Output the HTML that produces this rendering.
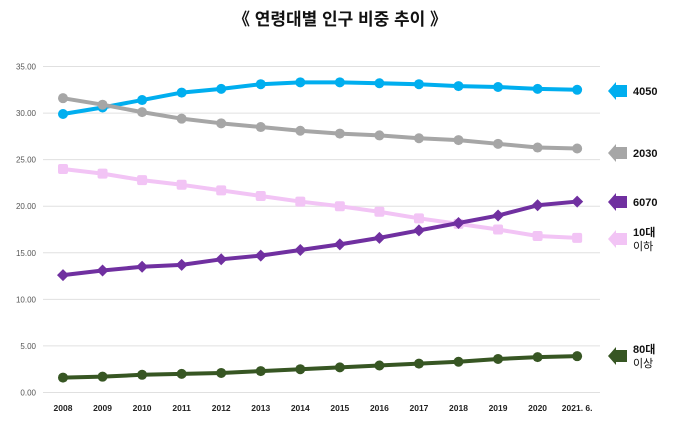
<!DOCTYPE html>
<html><head><meta charset="utf-8"><style>
body{margin:0;background:#fff;width:680px;height:425px;overflow:hidden}
svg{display:block;font-family:"Liberation Sans","Noto Sans CJK KR",sans-serif}
</style></head><body>
<svg id="s" width="680" height="425" xmlns="http://www.w3.org/2000/svg">
<text x="340" y="25" text-anchor="middle" font-size="17" font-weight="bold" fill="#111">《 연령대별 인구 비중 추이 》</text>
<g id="grid"></g><g id="series"></g>
</svg>
<script>
const s=document.getElementById('s'),NS='http://www.w3.org/2000/svg';
function el(t,a,txt){const e=document.createElementNS(NS,t);for(const k in a)e.setAttribute(k,a[k]);if(txt!=null)e.textContent=txt;s.appendChild(e);return e;}
const Y=v=>392.5-v*9.314, X=i=>63+i*39.55;
for(let v=0;v<=35;v+=5){el('line',{x1:43,x2:600,y1:Y(v),y2:Y(v),stroke:'#e0e0e0','stroke-width':1});
el('text',{x:36,y:Y(v)+3,'text-anchor':'end','font-size':8,fill:'#555'},v.toFixed(2));}
const yrs=['2008','2009','2010','2011','2012','2013','2014','2015','2016','2017','2018','2019','2020','2021. 6.'];
yrs.forEach((y,i)=>el('text',{x:X(i),y:411,'text-anchor':'middle','font-size':8.5,'font-weight':'bold',fill:'#222'},y));
const S=[
['#00aeef','c',[29.9,30.6,31.4,32.2,32.6,33.1,33.3,33.3,33.2,33.1,32.9,32.8,32.6,32.5]],
['#a6a6a6','c',[31.6,30.9,30.1,29.4,28.9,28.5,28.1,27.8,27.6,27.3,27.1,26.7,26.3,26.2]],
['#f2c4f5','q',[24.0,23.5,22.8,22.3,21.7,21.1,20.5,20.0,19.4,18.7,18.1,17.5,16.8,16.6]],
['#7030a0','d',[12.6,13.1,13.5,13.7,14.3,14.7,15.3,15.9,16.6,17.4,18.2,19.0,20.1,20.5]],
['#375623','c',[1.6,1.7,1.9,2.0,2.1,2.3,2.5,2.7,2.9,3.1,3.3,3.6,3.8,3.9]]];
S.forEach(([c,m,d])=>{
el('polyline',{points:d.map((v,i)=>X(i)+','+Y(v)).join(' '),fill:'none',stroke:c,'stroke-width':4,'stroke-linejoin':'round'});
d.forEach((v,i)=>{const x=X(i),y=Y(v);
if(m=='c')el('circle',{cx:x,cy:y,r:5,fill:c});
else if(m=='q')el('rect',{x:x-5,y:y-5,width:10,height:10,rx:2,fill:c});
else el('polygon',{points:`${x},${y-6} ${x+6},${y} ${x},${y+6} ${x-6},${y}`,fill:c});});});
const L=[['#00aeef',91,['4050']],['#a6a6a6',153,['2030']],['#7030a0',202,['6070']],['#f2c4f5',239,['10대','이하']],['#375623',356,['80대','이상']]];
L.forEach(([c,y,t])=>{
el('polygon',{points:`608,${y} 616,${y-9} 616,${y-6} 627,${y-6} 627,${y+6} 616,${y+6} 616,${y+9}`,fill:c});
if(t.length==1)el('text',{x:633,y:y+4,'font-size':11,'font-weight':'bold',fill:'#111'},t[0]);
else{el('text',{x:633,y:y-3,'font-size':11,'font-weight':'bold',fill:'#111'},t[0]);
el('text',{x:633,y:y+11,'font-size':11,fill:'#111'},t[1]);}});
</script>
</body></html>
